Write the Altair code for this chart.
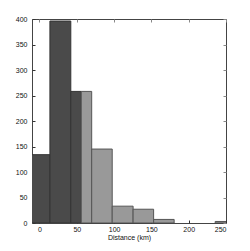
import altair as alt
import pandas as pd

bin_start = [-14, 14, 42, 56, 70, 97.5, 125.5, 153, 235.5]
bin_end = [14, 42, 56, 70, 97.5, 125.5, 153, 180.5, 263]
counts = [134, 396, 258, 258, 145, 33, 27, 7, 3]
group = ["near", "near", "near", "far", "far", "far", "far", "far", "far"]

x_ticks = [0, 50, 100, 150, 200, 250]
y_ticks = [0, 50, 100, 150, 200, 250, 300, 350, 400]

df = pd.DataFrame({"start": bin_start, "end": bin_end, "count": counts, "group": group})

FONT = "Liberation Sans"

xscale = alt.Scale(domain=[-10, 250], nice=False, zero=False)
yscale = alt.Scale(domain=[0, 400], nice=False)

fill = alt.Color("group:N", scale=alt.Scale(domain=["near", "far"], range=["#4a4a4a", "#999999"]), legend=None)
stroke = alt.Stroke("group:N", scale=alt.Scale(domain=["near", "far"], range=["#333333", "#555555"]), legend=None)

bars = alt.Chart(df).mark_rect(clip=True, strokeWidth=1).encode(
    x=alt.X("start:Q", scale=xscale,
            axis=alt.Axis(orient="bottom", values=x_ticks, title="Distance (km)", domain=False,
                          offset=-3, tickSize=3, tickColor="#333333", labelPadding=2,
                          labelFontSize=7, labelFont=FONT, labelColor="#111111",
                          titleFontSize=7, titleFont=FONT, titleFontWeight="normal",
                          titlePadding=1, titleColor="#111111", grid=False)),
    x2="end:Q",
    y=alt.Y("count:Q", scale=yscale,
            axis=alt.Axis(orient="left", values=y_ticks, title=None, domain=False,
                          offset=-3, tickSize=3, tickColor="#333333", labelPadding=5,
                          labelFontSize=7, labelFont=FONT, labelColor="#111111", grid=False)),
    y2=alt.datum(0),
    color=fill,
    stroke=stroke,
)

mirror = alt.Chart(df).mark_rect(opacity=0, clip=True).encode(
    x=alt.X("start:Q", scale=xscale,
            axis=alt.Axis(orient="top", values=x_ticks, title=None, labels=False, domain=False,
                          offset=-3, tickSize=3, tickColor="#888888", grid=False)),
    x2="end:Q",
    y=alt.Y("count:Q", scale=yscale,
            axis=alt.Axis(orient="right", values=y_ticks, title=None, labels=False, domain=False,
                          offset=-3, tickSize=3, tickColor="#888888", grid=False)),
    y2=alt.datum(0),
)

chart = alt.layer(bars, mirror).resolve_axis(x="independent", y="independent").properties(
    width=194, height=204,
    autosize=alt.AutoSizeParams(type="none"),
    padding={"left": 24, "top": 11, "right": 16, "bottom": 20},
).configure_view(stroke="#444444", strokeWidth=1)

chart.save("out.html", embed_options={"renderer": "svg", "actions": False})
